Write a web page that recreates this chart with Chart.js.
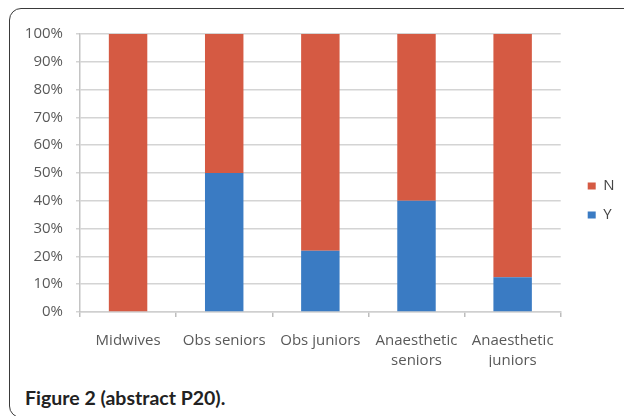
<!DOCTYPE html>
<html>
<head>
<meta charset="utf-8">
<script src="https://cdn.jsdelivr.net/npm/chart.js@4"></script>
<style>
  html, body { margin: 0; padding: 0; background: #fff; }
  body { width: 624px; height: 416px; position: relative; overflow: hidden; }
  #frame {
    position: absolute; left: 9px; top: 8px; width: 700px; height: 408px;
    border: 1.5px solid #3a3a3a; border-radius: 12px;
  }
  #chart { position: absolute; left: 10px; top: 12px; }
  #caption {
    position: absolute; left: 25px; top: 386px;
    font-family: Lato, sans-serif; font-weight: bold; font-size: 19.5px; color: #222;
  }
</style>
</head>
<body>
<div id="frame"></div>
<canvas id="chart" width="614" height="363"></canvas>
<div id="caption">Figure 2 (abstract P20).</div>
<script>
// groups along the x axis
const groups = ['Midwives', 'Obs seniors', 'Obs juniors', ['Anaesthetic', 'seniors'], ['Anaesthetic', 'juniors']];
// share answering Y / N (%)
const yesShare = [0, 50, 22, 40, 12.5];
const noShare = [100, 50, 78, 60, 87.5];
const yTicks = [0, 10, 20, 30, 40, 50, 60, 70, 80, 90, 100];

const RED = '#d55a43';
const BLUE = '#3a7bc3';
const TXT = '#595959';
const FONT = "'Open Sans', sans-serif";

// Chart.js puts the legend right against the plot; the original has a gap
const legendNudge = {
    id: 'legendNudge',
    afterLayout(c) {
        const l = c.legend;
        if (!l) return;
        l.left += 13; l.right += 13;
        l.top += 11; l.bottom += 11;
    }
};

new Chart(document.getElementById('chart'), {
    type: 'bar',
    data: {
        labels: groups,
        datasets: [
            { label: 'Y', data: yesShare, backgroundColor: BLUE },
            { label: 'N', data: noShare, backgroundColor: RED }
        ]
    },
    plugins: [legendNudge],
    options: {
        responsive: false,
        animation: false,
        devicePixelRatio: 1,
        layout: { padding: { top: 0, bottom: 8, left: 0, right: 12.5 } },
        datasets: { bar: { categoryPercentage: 0.8, barPercentage: 0.5 } },
        plugins: {
            tooltip: { enabled: false },
            legend: {
                position: 'right',
                reverse: true,
                labels: {
                    boxWidth: 8, boxHeight: 7, padding: 14,
                    color: '#444', font: { family: FONT, size: 15 }
                }
            }
        },
        scales: {
            x: {
                stacked: true,
                afterFit: s => { s.height = 55; },
                grid: { drawOnChartArea: false, tickLength: 5, color: '#bdbdbd', lineWidth: 1.5 },
                border: { color: '#cfcfcf', width: 1.5 },
                ticks: { color: TXT, padding: 13, font: { family: FONT, size: 15, lineHeight: 1.38 }, maxRotation: 0, autoSkip: false }
            },
            y: {
                stacked: true,
                min: 0, max: 100,
                afterFit: s => { s.width = 70; },
                afterBuildTicks: s => { s.ticks = yTicks.map(v => ({ value: v })); },
                grid: { color: '#d4d4d4', lineWidth: 1.5, tickLength: 4 },
                border: { color: '#c4c4c4', width: 1.5 },
                ticks: { color: TXT, padding: 13, font: { family: FONT, size: 15 }, callback: v => v + '%' }
            }
        }
    }
});
</script>
</body>
</html>
